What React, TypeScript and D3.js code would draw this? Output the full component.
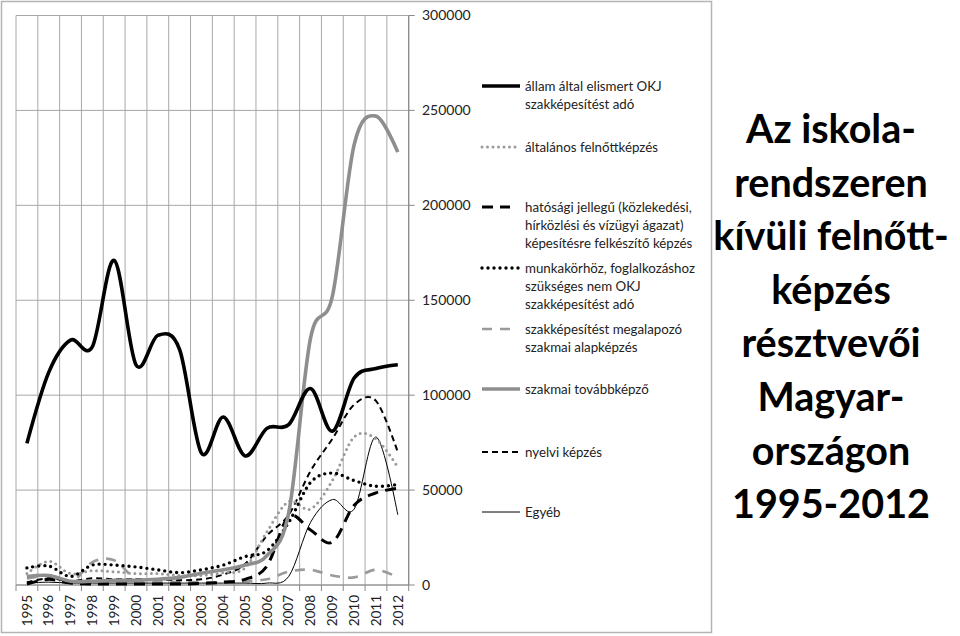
import React from "react";
import * as d3 from "d3";

const years = ["1995","1996","1997","1998","1999","2000","2001","2002","2003","2004","2005","2006","2007","2008","2009","2010","2011","2012"];
const yTicks = [0, 50000, 100000, 150000, 200000, 250000, 300000];

const allamOKJ = [74600, 112000, 129000, 125500, 171000, 116000, 131500, 124000, 69500, 88500, 68000, 82500, 84500, 103500, 81000, 109000, 114000, 116000];
const altalanos = [6000, 12500, 6000, 7500, 7000, 6000, 6000, 5000, 5000, 6500, 9000, 28000, 44000, 40000, 55000, 78000, 77000, 62000];
const hatosagi = [500, 3000, 1000, 500, 500, 500, 500, 500, 800, 1500, 3000, 10000, 36000, 29000, 22500, 42000, 48500, 51000];
const munkakorhoz = [9000, 10000, 4500, 10500, 10500, 9500, 8000, 6500, 8000, 10500, 15000, 18000, 33000, 54000, 59000, 55000, 52000, 53000];
const megalapozo = [3500, 4500, 1000, 12000, 13000, 3000, 2000, 1500, 1500, 1500, 2000, 3000, 7000, 8000, 5000, 4000, 8000, 4000];
const tovabbkepzo = [4400, 5000, 2000, 2000, 2500, 2500, 3000, 4000, 6200, 8000, 10500, 15500, 38000, 130000, 152000, 232000, 247000, 228000];
const nyelvi = [1500, 3500, 2000, 3500, 3000, 3000, 3000, 2500, 3000, 5500, 11000, 26000, 37000, 60000, 77000, 95000, 97000, 70000];
const egyeb = [1000, 1500, 1000, 1000, 1000, 1000, 1000, 1000, 1000, 1000, 1000, 1000, 4500, 33000, 45000, 40000, 78000, 37000];

const legendLabels = [
  ["állam által elismert OKJ", "szakképesítést adó"],
  ["általános felnőttképzés"],
  ["hatósági jellegű (közlekedési,", "hírközlési és vízügyi ágazat)", "képesítésre felkészítő képzés"],
  ["munkakörhöz, foglalkozáshoz", "szükséges nem OKJ", "szakképesítést adó"],
  ["szakképesítést megalapozó", "szakmai alapképzés"],
  ["szakmai továbbképző"],
  ["nyelvi képzés"],
  ["Egyéb"],
];

const titleLines = ["Az iskola-", "rendszeren", "kívüli felnőtt-", "képzés", "résztvevői", "Magyar-", "országon", "1995-2012"];

type Style = { color: string; width: number; dash?: string; cap?: string; sampleLen: number };
const styles: Style[] = [
  { color: "#000", width: 3.6, sampleLen: 38 },
  { color: "#9a9a9a", width: 3, dash: "0 5.5", cap: "round", sampleLen: 38 },
  { color: "#000", width: 3, dash: "11 7", sampleLen: 28 },
  { color: "#000", width: 3.4, dash: "0 6", cap: "round", sampleLen: 38 },
  { color: "#9a9a9a", width: 2.6, dash: "10 8", sampleLen: 28 },
  { color: "#8e8e8e", width: 3.6, sampleLen: 38 },
  { color: "#000", width: 2, dash: "6 4", sampleLen: 36 },
  { color: "#000", width: 1, sampleLen: 38 },
];
const seriesData = [allamOKJ, altalanos, hatosagi, munkakorhoz, megalapozo, tovabbkepzo, nyelvi, egyeb];
const drawOrder = [4, 7, 2, 6, 1, 3, 5, 0];
const legendY = [86, 147, 207, 268, 329, 389, 452, 512];

const FONT = "Lato, 'Liberation Sans', sans-serif";

export default function App() {
  const left = 16, right = 408.7, top = 15.5, bottom = 585;
  const x = d3.scaleBand<string>().domain(years).range([left, right]).padding(0);
  const y = d3.scaleLinear().domain([0, 300000]).range([bottom, top]);
  const cx = (i: number) => (x(years[i]) as number) + x.bandwidth() / 2;
  const line = d3.line<number>().x((_, i) => cx(i)).y((d) => y(d)).curve(d3.curveCardinal.tension(0));
  const boundaries = years.map((yr) => x(yr) as number).concat([right]);

  return (
    <div style={{ position: "absolute", left: 0, top: 0 }}>
      <svg width={960} height={636} style={{ display: "block", background: "#fff" }}>
        <rect x={1.5} y={1.5} width={710} height={631} fill="#fff" stroke="#b4b4b4" strokeWidth={1.5} />
        {yTicks.map((t) => (
          <line key={"h" + t} x1={left} x2={right} y1={y(t)} y2={y(t)} stroke="#a8a8a8" strokeWidth={1} />
        ))}
        {boundaries.map((b, i) => (
          <line key={"v" + i} x1={b} x2={b} y1={top} y2={bottom} stroke="#a8a8a8" strokeWidth={1} />
        ))}
        <line x1={right} x2={right} y1={top} y2={bottom} stroke="#8a8a8a" strokeWidth={1.2} />
        <line x1={left} x2={right} y1={bottom} y2={bottom} stroke="#8a8a8a" strokeWidth={1.2} />
        {yTicks.map((t) => (
          <line key={"rt" + t} x1={right} x2={right + 6} y1={y(t)} y2={y(t)} stroke="#8a8a8a" strokeWidth={1} />
        ))}
        {boundaries.map((b, i) => (
          <line key={"bt" + i} x1={b} x2={b} y1={bottom} y2={bottom + 6} stroke="#8a8a8a" strokeWidth={1} />
        ))}
        {yTicks.map((t) => (
          <text key={"rl" + t} x={422} y={y(t)} dy="0.35em" fontFamily={FONT} fontSize={14} fill="#222">{t}</text>
        ))}
        {years.map((yr, i) => (
          <text key={"yl" + yr} transform={`translate(${cx(i)},${bottom + 10}) rotate(-90)`} textAnchor="end" dy="0.35em" fontFamily={FONT} fontSize={13.5} fill="#222">{yr}</text>
        ))}
        {drawOrder.map((k) => {
          const s = styles[k];
          return (
            <path key={"s" + k} d={line(seriesData[k]) as string} fill="none" stroke={s.color} strokeWidth={s.width}
              strokeDasharray={s.dash} strokeLinecap={(s.cap as any) || "butt"} strokeLinejoin="round" />
          );
        })}
        {legendLabels.map((lines, k) => {
          const s = styles[k];
          const ly = legendY[k];
          return (
            <g key={"lg" + k}>
              <line x1={482} x2={482 + s.sampleLen} y1={ly} y2={ly} stroke={s.color} strokeWidth={s.width}
                strokeDasharray={s.dash} strokeLinecap={(s.cap as any) || "butt"} />
              {lines.map((t, j) => (
                <text key={j} x={525} y={ly + j * 18} dy="0.35em" fontFamily={FONT} fontSize={13.3} fill="#222">{t}</text>
              ))}
            </g>
          );
        })}
        {titleLines.map((t, i) => (
          <text key={"t" + i} x={831} y={143 + i * 53.6} textAnchor="middle" fontFamily={FONT} fontWeight={700} fontSize={39.5} fill="#000">{t}</text>
        ))}
      </svg>
    </div>
  );
}
